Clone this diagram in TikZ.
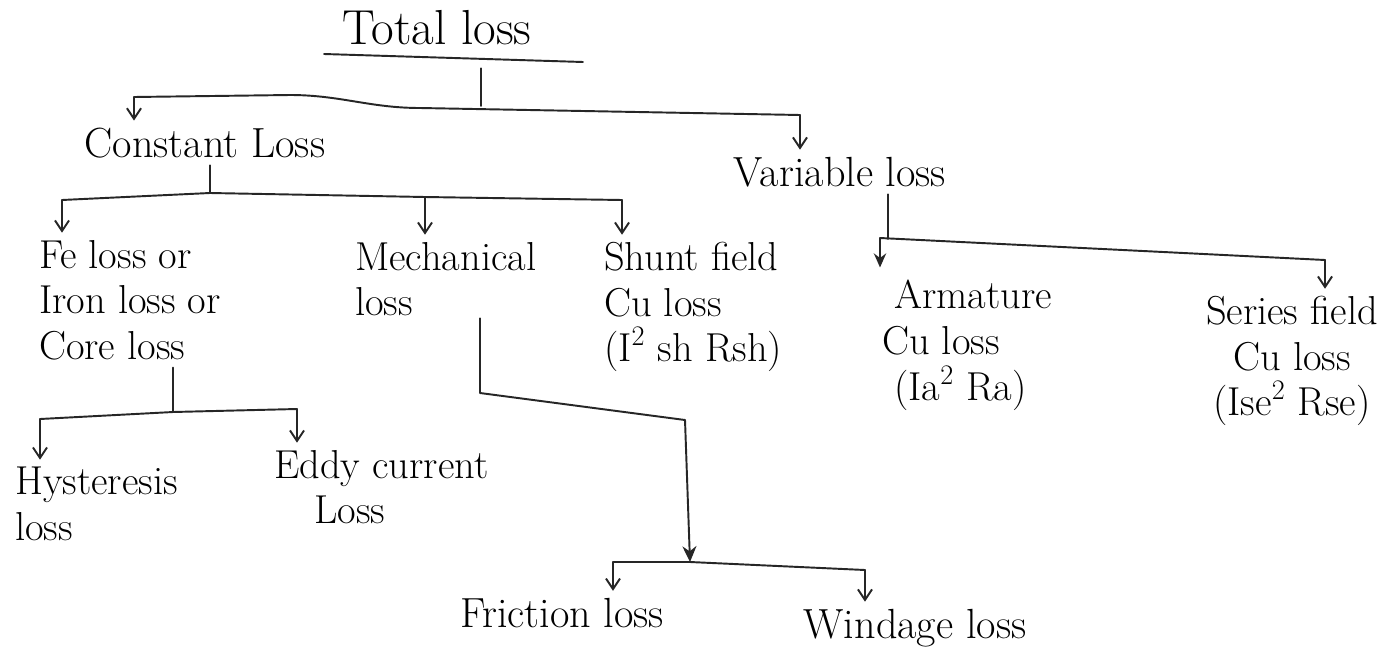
\documentclass[tikz,border=0pt]{standalone}
\usetikzlibrary{arrows.meta}
\begin{document}
\begin{tikzpicture}[x=0.02cm,y=-0.02cm,
  txt/.style={font=\fontsize{24}{24}\selectfont, inner sep=1pt, text=black},
  blk/.style={txt, font=\fontsize{23}{26}\selectfont, align=left, anchor=north west},
  ln/.style={line width=1.1pt, line cap=round, line join=round, draw=black!85},
  arr/.style={ln, -{Straight Barb[length=6pt,width=8pt]}, shorten >=3pt},
  barr/.style={ln, -{Stealth[length=8pt,width=7pt]}, shorten >=6pt},
]
\useasboundingbox (0,0) rectangle (1398,659);
\fill[white] (0,0) rectangle (1398,659);

% nodes
\node[txt, font=\fontsize{28}{28}\selectfont] (total) at (437,28) {Total loss};
\node[txt] (const) at (205,143) {Constant Loss};
\node[txt] (var) at (840,172) {Variable loss};
\node[blk] (fe) at (37,238) {Fe loss or\\Iron loss or\\Core loss};
\node[blk] (mech) at (353,240) {Mechanical\\loss};
\node[blk] (shunt) at (602,240) {Shunt field\\Cu loss\\(I\textsuperscript{2} sh Rsh)};
\node[blk] (arm) at (880,278) {\ Armature\\Cu loss\\\ (Ia\textsuperscript{2} Ra)};
\node[blk, align=center, anchor=north] (ser) at (1292,294) {Series field\\Cu loss\\(Ise\textsuperscript{2} Rse)};
\node[blk] (hys) at (13,465) {Hysteresis\\loss};
\node[blk] (eddy) at (272,448) {Eddy current\\\quad Loss};
\node[txt] (fric) at (562,613) {Friction loss};
\node[txt] (wind) at (915,628) {Windage loss};

% underline of the title
\draw[ln] (324,54) -- (583,62);

% total -> constant / variable
\coordinate (T1) at (481,106);
\coordinate (L1) at (134,97);
\coordinate (R1) at (800,115);
\draw[ln] ([yshift=-12pt]total.south -| T1) -- (T1);
\draw[ln] (L1) -- (290,95) .. controls (340,95) and (370,108) .. (420,108) -- (R1);
\draw[arr] (L1) -- (L1 |- const.north);
\draw[arr] (R1) -- (R1 |- var.north);

% constant loss -> children
\coordinate (C0) at (210,193);
\coordinate (C1) at (62,200);
\coordinate (C2) at (425,197);
\coordinate (C3) at (622,200);
\draw[ln] ([yshift=-3pt]const.south -| C0) -- (C0);
\draw[ln] (C1) -- (C0) -- (C2) -- (C3);
\draw[arr] (C1) -- (C1 |- fe.north);
\draw[arr] (C2) -- (C2 |- mech.north);
\draw[arr] (C3) -- (C3 |- shunt.north);

% variable loss -> children
\coordinate (V0) at (888,239);
\coordinate (V1) at (880,238);
\coordinate (V2) at (1325,260);
\draw[ln] ([yshift=-3pt]var.south -| V0) -- (V0);
\draw[ln] (V1) -- (V2);
\draw[barr] (V1) -- (V1 |- arm.north);
\draw[arr] (V2) -- (V2 |- ser.north);

% core loss -> children
\coordinate (K0) at (173,412);
\coordinate (K1) at (40,419);
\coordinate (K2) at (297,409);
\draw[ln] ([yshift=-3pt]fe.south -| K0) -- (K0);
\draw[ln] (K1) -- (K0) -- (K2);
\draw[arr] (K1) -- (K1 |- hys.north);
\draw[arr] (K2) -- (K2 |- eddy.north);

% mechanical loss -> children
\coordinate (M1) at (480,393);
\coordinate (M2) at (685,420);
\coordinate (F0) at (690,562);
\coordinate (F1) at (613,562);
\coordinate (F2) at (865,570);
\draw[ln, -{Stealth[length=9pt,width=8pt]}] (mech.south -| M1) -- (M1) -- (M2) -- (F0);
\draw[ln] (F1) -- (F0) -- (F2);
\draw[arr] (F1) -- (F1 |- fric.north);
\draw[arr] (F2) -- (F2 |- wind.north);
\end{tikzpicture}
\end{document}
